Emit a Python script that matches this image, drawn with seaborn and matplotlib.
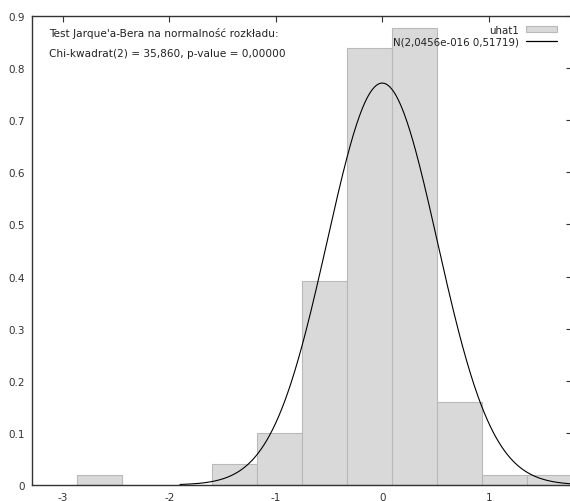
import numpy as np
import matplotlib
matplotlib.use("Agg")
import matplotlib.pyplot as plt
import seaborn as sns
from matplotlib.patches import Patch
from matplotlib.lines import Line2D

# ---- data ----
bin_edges = [-2.865, -2.443, -2.020, -1.598, -1.175, -0.753, -0.330,
             0.092, 0.515, 0.937, 1.360, 1.782]
densities = [0.020, 0.0, 0.0, 0.040, 0.099, 0.392, 0.839, 0.878,
             0.160, 0.020, 0.020]
norm_mu = 2.0456e-16
norm_sd = 0.51719
curve_range = [-1.90, 1.80]
x_ticks = [-3, -2, -1, 0, 1]
y_ticks = [0, 0.1, 0.2, 0.3, 0.4, 0.5, 0.6, 0.7, 0.8, 0.9]
y_tick_labels = ["0", "0.1", "0.2", "0.3", "0.4", "0.5", "0.6", "0.7", "0.8", "0.9"]
title_lines = ["Test Jarque'a-Bera na normalność rozkładu:",
               "Chi-kwadrat(2) = 35,860, p-value = 0,00000"]
legend_labels = ["uhat1", "N(2,0456e-016 0,51719)"]

sns.set_style("white")
plt.rcParams["font.family"] = ["DejaVu Sans"]
plt.rcParams["axes.unicode_minus"] = False

fig = plt.figure(figsize=(5.70, 5.02), dpi=100)
ax = fig.add_axes([0.056, 0.032, 0.948, 0.934])

centers = [(bin_edges[i] + bin_edges[i + 1]) / 2 for i in range(len(densities))]
sns.histplot(x=centers, weights=densities, bins=bin_edges, stat="count",
             color="#d9d9d9", edgecolor="#b9b9b9", linewidth=0.8, alpha=1.0,
             ax=ax)

xs = np.linspace(curve_range[0], curve_range[1], 400)
pdf = np.exp(-0.5 * ((xs - norm_mu) / norm_sd) ** 2) / (norm_sd * np.sqrt(2 * np.pi))
sns.lineplot(x=xs, y=pdf, color="black", linewidth=0.8, estimator=None,
             sort=False, ax=ax)

ax.set_xlim(-3.29, 1.785)
ax.set_ylim(0, 0.9)
ax.set_xticks(x_ticks)
ax.set_xticklabels([str(t) for t in x_ticks])
ax.set_yticks(y_ticks)
ax.set_yticklabels(y_tick_labels)
ax.set_xlabel("")
ax.set_ylabel("")
ax.tick_params(direction="in", length=4, width=0.8, colors="#333333",
               labelsize=7.5, top=True, right=True, pad=5)
ax.tick_params(axis="y", pad=5)
for s in ax.spines.values():
    s.set_visible(True)
    s.set_color("#333333")
    s.set_linewidth(1.0)

ax.text(0.032, 0.966, title_lines[0], transform=ax.transAxes, fontsize=7.6,
        color="#222222", va="center", ha="left")
ax.text(0.032, 0.921, title_lines[1], transform=ax.transAxes, fontsize=7.6,
        color="#222222", va="center", ha="left")

handles = [Patch(facecolor="#d9d9d9", edgecolor="#b9b9b9", linewidth=0.8),
           Line2D([0], [0], color="black", linewidth=0.9)]
leg = ax.legend(handles, legend_labels, loc="upper right", frameon=False,
                markerfirst=False, fontsize=7.4, handlelength=3.0,
                handleheight=0.6, handletextpad=0.7, labelspacing=0.15,
                borderaxespad=0.2, bbox_to_anchor=(0.983, 0.995))
for t in leg.get_texts():
    t.set_color("#222222")

fig.savefig("out.png", dpi=100)
